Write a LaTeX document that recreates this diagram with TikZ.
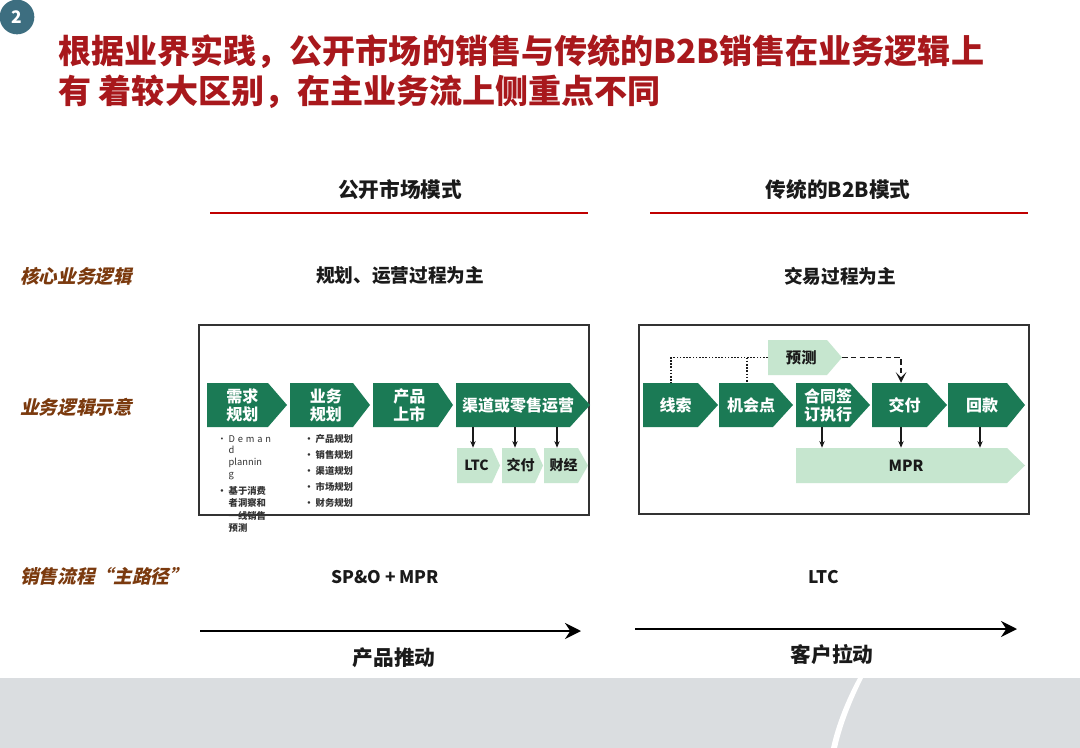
\documentclass[tikz,border=0pt]{standalone}
\usepackage{fontspec}
\setmainfont{Noto Sans CJK SC}
\newfontfamily\slfont[FakeSlant=0.22]{Noto Sans CJK SC}
\usetikzlibrary{arrows.meta}
\definecolor{dg}{HTML}{1B7A55}
\definecolor{lg}{HTML}{C6E6CF}
\definecolor{tred}{HTML}{A8181C}
\definecolor{hred}{HTML}{C00000}
\definecolor{brn}{HTML}{7B3A0E}
\definecolor{tealc}{HTML}{3D6E80}
\definecolor{band}{HTML}{DADDE0}
\definecolor{ink}{HTML}{1A1A1A}
\definecolor{frm}{HTML}{333333}
\newcommand\chev[8]{%
  \fill[#6fill] (#1,#4) -- (#2,#4) -- (#3,{(#4+#5)/2}) -- (#2,#5) -- (#1,#5) -- cycle;
  \node[#6text, minimum width={(#2+#3-2*#1)*0.375pt}, minimum height={(#5-#4)*0.75pt}, inner sep=0pt] (#7) at ({(2*#1+#2+#3)/4},{(#4+#5)/2}) {#8};}
\newcommand\bsp{\phantom{•\ }}
\begin{document}
\begin{tikzpicture}[x=0.75pt,y=-0.75pt,
  dfill/.style={fill=dg},
  lfill/.style={fill=lg},
  dtext/.style={text=white, font=\fontsize{12}{13.5}\selectfont\bfseries, align=center},
  ltext/.style={text=ink, font=\fontsize{10.5}{12}\selectfont\bfseries, align=center},
  title/.style={text=tred, font=\fontsize{24.8}{30}\selectfont\bfseries, inner sep=0pt, anchor=west},
  hdr/.style={text=ink, font=\fontsize{15.5}{18}\selectfont\bfseries, inner sep=0pt},
  sub/.style={text=ink, font=\fontsize{14}{16}\selectfont\bfseries, inner sep=0pt},
  lab/.style={text=brn, font=\slfont\fontsize{14}{16}\selectfont\bfseries, inner sep=0pt, anchor=west},
  mid/.style={text=ink, font=\fontsize{13}{15}\selectfont\bfseries, inner sep=0pt},
  blt/.style={text=frm, font=\fontsize{7}{8.8}\selectfont, align=left, inner sep=0pt, anchor=north west},
  redline/.style={draw=hred, line width=2.2pt},
  frame/.style={draw=frm, line width=0.8pt},
  arr/.style={draw=ink, line width=0.8pt, -{Stealth[length=5pt,width=4pt]}},
  big/.style={draw=black, line width=2.2pt, -{Stealth[length=12pt,width=12pt,inset=4pt]}},
  dot/.style={draw=ink, line width=0.8pt, dash pattern=on 1.2pt off 1.2pt},
  dsh/.style={draw=ink, line width=1pt, dash pattern=on 4pt off 2.5pt, -{Stealth[length=8pt,width=8pt,inset=4pt]}}
]
\useasboundingbox (0,0) rectangle (1080,748);
\fill[white] (0,0) rectangle (1080,748);
\fill[band] (0,678) rectangle (1080,748);
\fill[white] (858,678) -- (863,678) .. controls (852,700) and (842,725) .. (837,748) -- (831,748) .. controls (836,725) and (846,700) .. (858,678) -- cycle;

% number badge
\node[circle, fill=tealc, minimum size=26pt, inner sep=0pt, text=white, font=\fontsize{13}{14}\selectfont\bfseries] (num) at (17,17) {2};

% title
\node[title] (t1) at (58,52) {根据业界实践，公开市场的销售与传统的B2B销售在业务逻辑上};
\node[title] (t2) at (58,92) {有 着较大区别，在主业务流上侧重点不同};

% column headers
\node[hdr] (h1) at (400,190) {公开市场模式};
\node[hdr] (h2) at (838,190) {传统的B2B模式};
\draw[redline] (210,213) -- (588,213);
\draw[redline] (650,213) -- (1028,213);

% row labels
\node[lab] (l1) at (20,276) {核心业务逻辑};
\node[lab] (l2) at (20,407) {业务逻辑示意};
\node[lab] (l3) at (20,576) {销售流程“主路径”};

\node[sub] (s1) at (400,276) {规划、运营过程为主};
\node[sub] (s2) at (840,276) {交易过程为主};

% frames
\draw[frame] (199,325) rectangle (589,515);
\draw[frame] (639,325) rectangle (1029,514);

% left flow
\chev{207}{268}{287}{383}{427}{d}{c1}{需求\\规划}
\chev{290}{353}{370}{383}{427}{d}{c2}{业务\\规划}
\chev{373}{438}{453}{383}{427}{d}{c3}{产品\\上市}
\chev{456}{570}{590}{383}{427}{d}{c4}{渠道或零售运营}
\chev{457}{492}{500}{448}{483}{l}{ltc}{LTC}
\chev{502}{535}{543}{448}{483}{l}{jf1}{交付}
\chev{544}{578}{588}{448}{483}{l}{cj}{财经}
\foreach \n/\x in {ltc/473,jf1/515,cj/557}
  \draw[arr] (c4.south -| \x,0) -- (\n.north -| \x,0);

% bullet lists
\node[blt] (b1) at (217,435) {• {\addfontfeatures{LetterSpace=30}Deman}\\\bsp d\\\bsp plannin\\\bsp g};
\node[blt, font=\fontsize{7}{9.4}\selectfont\bfseries] (b2) at (217,486) {• 基于消费\\\bsp 者洞察和\\\bsp 一线销售\\\bsp 预测};
\node[blt, font=\fontsize{7}{12}\selectfont\bfseries] (b3) at (304,434) {• 产品规划\\• 销售规划\\• 渠道规划\\• 市场规划\\• 财务规划};

% right flow
\chev{768}{827}{842}{340}{375}{l}{yc}{\fontsize{11.5}{13}\selectfont 预测}
\chev{643}{698}{718}{383}{427}{d}{xs}{线索}
\chev{719}{773}{793}{383}{427}{d}{jh}{机会点}
\chev{796}{850}{870}{383}{427}{d}{ht}{合同签\\订执行}
\chev{872}{927}{947}{383}{427}{d}{jf2}{交付}
\chev{948}{1007}{1025}{383}{427}{d}{hk}{回款}
\chev{796}{1007}{1025}{448}{483}{l}{mpr}{\fontsize{11.5}{13}\selectfont MPR}
\foreach \n/\x in {ht/822,jf2/901,hk/980}
  \draw[arr] (\n.south -| \x,0) -- (mpr.north -| \x,0);
\draw[dot] (yc.west) -| (671,0 |- xs.north);
\draw[dot] (747,0 |- yc.west) -- (747,0 |- jh.north);
\draw[dsh] ([xshift=5.6pt]yc.east) -| (901,0 |- jf2.north);

% main path
\node[mid] (sp) at (385,577) {SP\&O + MPR};
\node[mid] (lt) at (824,577) {LTC};
\coordinate (a1s) at (200,631);
\coordinate (a1e) at (581,631);
\coordinate (a2s) at (635,629);
\coordinate (a2e) at (1017,629);
\draw[big] (a1s) -- (a1e);
\draw[big] (a2s) -- (a2e);
\node[hdr] (p1) at (394,658) {产品推动};
\node[hdr] (p2) at (832,655) {客户拉动};
\end{tikzpicture}
\end{document}
